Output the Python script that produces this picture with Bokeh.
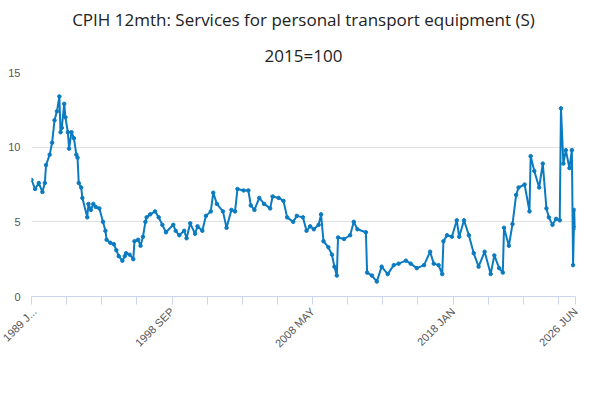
from bokeh.plotting import figure
from bokeh.models import (Title, Legend, LegendItem, FixedTicker, Label, Range1d)
from bokeh.embed import file_html
from bokeh.resources import INLINE

months = [0,3,6,9,11,12,15,17,19,21,23,24,25,27,28,30,31,33,35,37,38,39,41,42,46,47,49,51,53,56,59,61,62,65,68,70,72,75,77,78,81,84,85,88,90,92,94,95,98,102,105,108,
          111,117,119,122,126,128,131,135,137,141,144,148,150,153,158,161,165,168,170,175,179,181,184,188,192,197,199,204,208,211,216,219,
          224,227,230,233,237,239,241,245,248,250,252,253,258,263,266,269,276,277,281,285,289,294,299,303,309,313,318,324,329,332,
          336,339,340,343,347,351,353,357,361,365,369,374,379,382,386,389,390,394,397,400,402,407,411,412,415,419,422,425,427,430,433,436,437,439,441,444,446,447,448,449]
values = [7.8,7.2,7.6,7.0,7.6,8.8,9.5,10.3,11.8,12.4,13.4,11.0,11.3,12.9,12.0,11.0,9.9,11.0,10.6,9.5,9.3,7.6,7.3,6.6,5.3,6.2,5.8,6.2,6.0,5.9,5.0,4.4,3.8,3.6,3.5,3.1,2.7,2.4,2.7,2.9,2.8,2.5,3.7,3.8,3.4,4.0,5.0,5.3,5.5,5.7,5.3,4.8,
          4.3,4.8,4.4,4.1,4.4,3.9,4.9,4.2,4.7,4.4,5.4,5.7,6.95,6.2,5.7,4.6,5.8,5.7,7.2,7.1,7.1,6.1,5.8,6.6,6.2,5.9,6.7,6.6,6.4,5.3,5.0,5.4,
          5.3,4.4,4.7,4.5,4.8,5.5,3.7,3.3,2.8,2.0,1.4,3.95,3.85,4.1,5.0,4.5,4.3,1.6,1.4,1.0,2.0,1.5,2.1,2.2,2.4,2.2,1.9,2.1,3.0,2.2,
          2.1,1.5,3.7,4.1,4.0,5.1,4.0,5.1,4.1,2.9,2.0,3.0,1.5,2.75,1.9,1.6,4.6,3.4,4.85,6.8,7.3,7.5,5.7,9.4,8.4,7.3,8.9,5.9,5.3,4.8,5.2,5.1,12.6,8.9,9.8,8.6,9.8,2.1,5.8,4.6]
tick_pos = [0,29,58,87,116,145,174,203,232,261,290,319,348,377,406,435,449]
tick_labels = {0:"1989 J...",116:"1998 SEP",232:"2008 MAY",348:"2018 JAN",449:"2026 JUN"}
series_name = "CPIH 12mth: Services for personal transport equipment (S) 2015=100"

col = "#0b7bc1"
p = figure(frame_width=544, frame_height=224, output_backend="svg", toolbar_location=None,
           x_range=Range1d(0, 449), y_range=Range1d(0, 15),
           min_border_left=31, min_border_right=9, min_border_top=4, min_border_bottom=0)
p.outline_line_color = None
p.add_layout(Title(text="2015=100", align="center", text_font_size="17px",
                   text_font_style="normal", text_color="#222222", text_font="Open Sans", standoff=12), "above")
p.add_layout(Title(text="CPIH 12mth: Services for personal transport equipment (S)", align="center",
                   text_font_size="17px", text_font_style="normal", text_color="#222222", text_font="Open Sans"), "above")

r = p.line(months, values, line_color=col, line_width=2)
c = p.scatter(months, values, size=3.5, color=col)

p.yaxis.ticker = FixedTicker(ticks=[0, 5, 10, 15])
p.yaxis.axis_line_color = None
p.yaxis.major_tick_line_color = None
p.yaxis.minor_tick_line_color = None
p.yaxis.major_label_text_color = "#555555"
p.yaxis.major_label_text_font_size = "11px"
p.ygrid.grid_line_color = "#e0e0e0"
p.xgrid.grid_line_color = None

p.xaxis.ticker = FixedTicker(ticks=tick_pos)
p.xaxis.major_label_overrides = {t: tick_labels.get(t, "") for t in tick_pos}
p.xaxis.major_label_orientation = 0.785
p.xaxis.major_label_text_color = "#555555"
p.xaxis.major_label_text_font_size = "11px"
p.xaxis.axis_line_color = "#ccd6eb"
p.xaxis.major_tick_line_color = "#ccd6eb"
p.xaxis.major_tick_out = 8
p.xaxis.major_tick_in = 0
p.xaxis.minor_tick_line_color = None

p.add_layout(Label(x=-26, y=15.7, text="%", text_font_size="12px", text_color="#555555"))

legend = Legend(items=[LegendItem(label=series_name, renderers=[r, c])],
                orientation="horizontal", location="center", border_line_color=None,
                label_text_font_style="bold", label_text_font_size="12px", label_text_color="#333333",
                padding=2, margin=6)
p.add_layout(legend, "below")
p.add_layout(Title(text="Source:", align="right", text_font_size="12px",
                   text_font_style="normal", text_color="#555555"), "below")

open("out.html", "w").write(file_html(p, INLINE))
